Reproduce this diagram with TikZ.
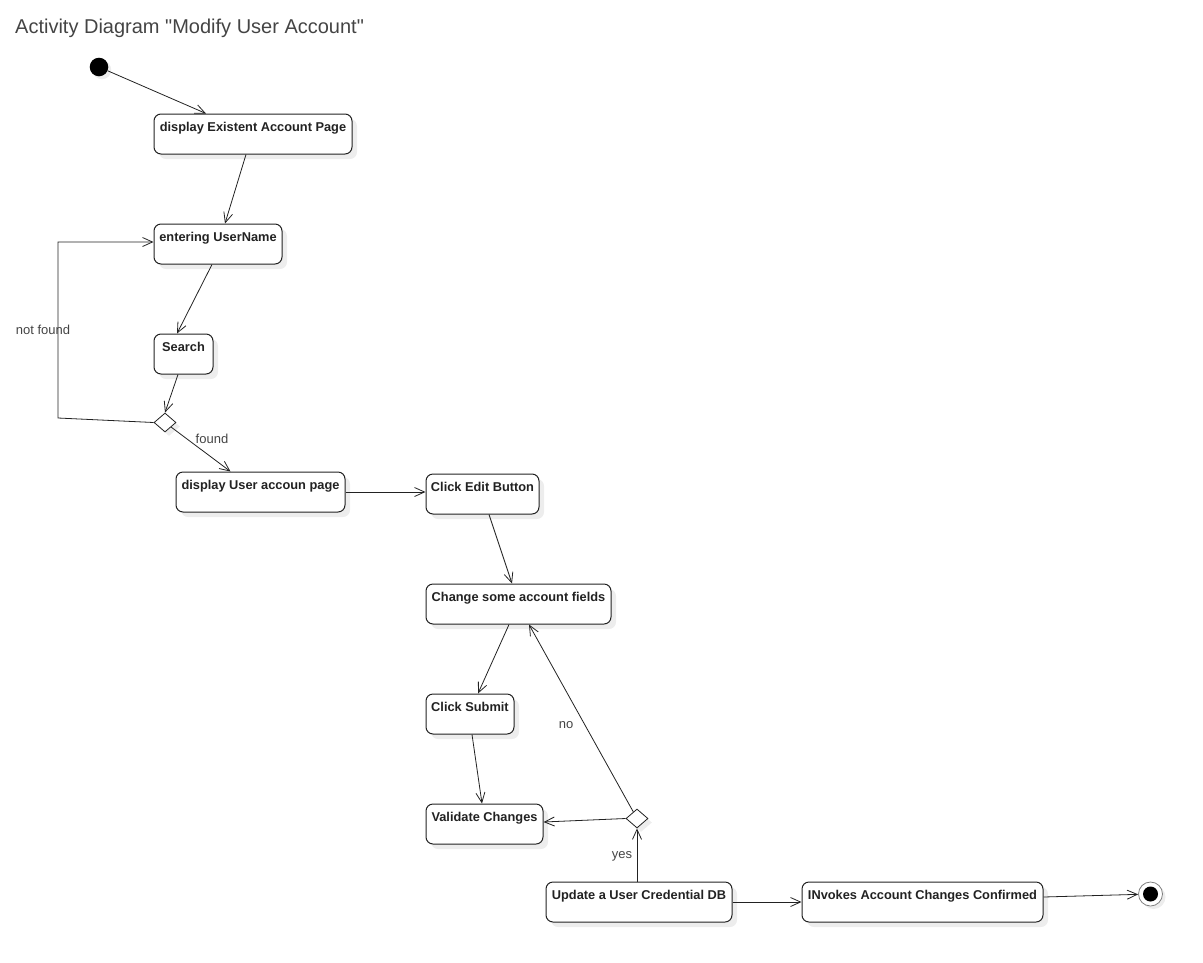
\documentclass[tikz,border=0pt]{standalone}
\usepackage{fontspec}
\setmainfont{Liberation Sans}
\newfontfamily\titlefont{Liberation Sans}
\usetikzlibrary{arrows.meta,shapes.geometric,shadows}

\definecolor{inkline}{HTML}{222222}
\definecolor{guardgray}{HTML}{444444}
\definecolor{shadowgray}{HTML}{EDEDED}

\tikzset{
  activity/.style={draw=inkline, line width=1pt, rounded corners=7pt, fill=white,
    inner xsep=4pt, inner ysep=4pt, text height=13.5pt, text depth=18.5pt, text=inkline,
    font=\fontsize{12.8}{15}\selectfont\bfseries,
    drop shadow={shadow xshift=5pt, shadow yshift=-5pt, fill=shadowgray, opacity=1}},
  decision/.style={diamond, draw=inkline, line width=0.8pt, fill=white, inner sep=0pt,
    minimum width=22pt, minimum height=19pt,
    drop shadow={shadow xshift=4pt, shadow yshift=-4pt, fill=shadowgray, opacity=1}},
  flow/.style={draw=inkline, line width=0.8pt, -{Straight Barb[length=10pt, width=9pt]}},
  guard/.style={text=guardgray, font=\fontsize{13}{15}\selectfont}
}

\begin{document}
\begin{tikzpicture}[x=1pt, y=-1pt]
\useasboundingbox (0,0) rectangle (1203,962);
\node[anchor=base west, text=guardgray, font=\titlefont\fontsize{20}{24}\selectfont, inner sep=0pt] (title) at (15,33) {Activity Diagram "Modify User Account"};

\node[circle, fill=black, minimum size=18.6pt, inner sep=0pt, drop shadow={shadow xshift=3pt, shadow yshift=-3pt, fill=shadowgray, opacity=1}] (start) at (99,67) {};
\node[activity, minimum width=198pt] (displayPage) at (253,134) {display Existent Account Page};
\node[activity, minimum width=128pt] (enterName) at (218,244) {entering UserName};
\node[activity, minimum width=59pt] (search) at (183.5,354) {Search};
\node[decision] (found) at (165,422.5) {};
\node[activity, minimum width=169pt] (userPage) at (260.5,492) {display User accoun page};
\node[activity, minimum width=113pt] (clickEdit) at (482.5,494) {Click Edit Button};
\node[activity, minimum width=185pt] (changeFields) at (518.5,604) {Change some account fields};
\node[activity, minimum width=88pt] (clickSubmit) at (470,714) {Click Submit};
\node[activity, minimum width=117pt] (validate) at (484.5,824) {Validate Changes};
\node[decision] (valid) at (637,818.5) {};
\node[activity, minimum width=186pt] (updateDB) at (639,902) {Update a User Credential DB};
\node[activity, minimum width=241pt] (confirmed) at (922.5,902) {INvokes Account Changes Confirmed};
\node[circle, draw=gray, line width=0.8pt, fill=white, minimum size=24pt, inner sep=0pt,
  drop shadow={shadow xshift=3pt, shadow yshift=-3pt, fill=shadowgray, opacity=1}] (finish) at (1150.5,894) {};
\node[circle, fill=black, minimum size=15pt, inner sep=0pt] (finishDot) at (finish) {};

\coordinate (loopCorner) at (58,418);

\node[guard] (notFoundLabel) at (43,330) {not found};
\node[guard] (foundLabel) at (212,439) {found};
\node[guard] (noLabel) at (566,725) {no};
\node[guard] (yesLabel) at (622,856) {yes};

\draw[flow] (start) -- ([xshift=-47pt]displayPage.north);
\draw[flow] ([xshift=-7pt]displayPage.south) -- ([xshift=7pt]enterName.north);
\draw[flow] ([xshift=-6pt]enterName.south) -- ([xshift=-6.5pt]search.north);
\draw[flow] ([xshift=-5.5pt]search.south) -- (found.north);
\draw[flow] (found.west) -- (loopCorner) |- ([yshift=2pt]enterName.west);
\draw[flow] (found) -- ([xshift=-30pt]userPage.north);
\draw[flow] (userPage.east) -- (userPage.east -| clickEdit.west);
\draw[flow] ([xshift=6.5pt]clickEdit.south) -- ([xshift=-6.5pt]changeFields.north);
\draw[flow] ([xshift=-9.5pt]changeFields.south) -- ([xshift=8pt]clickSubmit.north);
\draw[flow] ([xshift=2pt]clickSubmit.south) -- ([xshift=-2.5pt]validate.north);
\draw[flow] (valid.west) -- ([yshift=2pt]validate.east);
\draw[flow] (valid) -- ([xshift=10.5pt]changeFields.south);
\draw[flow] (updateDB.north -| valid) -- (valid.south);
\draw[flow] (updateDB.east) -- (confirmed.west);
\draw[flow] ([yshift=5pt]confirmed.east) -- (finish);

\end{tikzpicture}
\end{document}
